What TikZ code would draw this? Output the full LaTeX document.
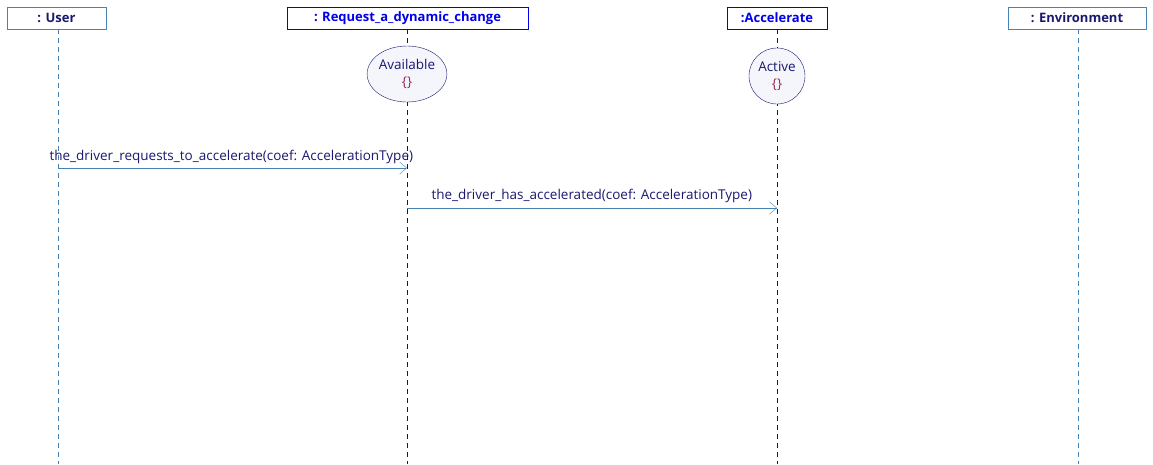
\documentclass[tikz,border=0pt]{standalone}
\usepackage{fontspec}
\setmainfont{Open Sans}
\usepackage{tikz}
\usetikzlibrary{shapes.geometric,arrows.meta}
\definecolor{steel}{RGB}{70,130,180}
\definecolor{navy}{RGB}{25,25,112}
\definecolor{partblue}{RGB}{0,0,235}
\definecolor{lav}{RGB}{245,245,252}
\definecolor{brace}{RGB}{150,40,90}
\begin{document}
\begin{tikzpicture}
            [x=1pt,y=-1pt,
            every node/.style={font=\fontsize{13.5}{17}\selectfont},
            actor/.style={draw=steel, rectangle, minimum height=22pt, text=navy, font=\fontsize{13}{15}\selectfont\bfseries},
            part/.style={draw=partblue, rectangle, minimum height=22pt, text=partblue, font=\fontsize{13}{15}\selectfont\bfseries},
            life/.style={dash pattern=on 5pt off 4pt},
            statebox/.style={ellipse, draw=navy, fill=lav, text=navy, align=center, inner sep=0pt},
            msg/.style={draw=steel, -{Straight Barb[length=7pt,width=12pt]}},
            msglabel/.style={text=navy, anchor=base west}]

            \useasboundingbox (0,0) rectangle (1153,464);

            % heads
            \node[actor, minimum width=99pt] (user) at (56.5,18) {: User};
            \node[part, minimum width=241pt] (req) at (407.5,18) {: Request\_a\_dynamic\_change};
            \node[part, minimum width=100pt] (acc) at (777,18) {:Accelerate};
            \node[actor, minimum width=138pt] (env) at (1077,18) {: Environment};

            % lifelines
            \coordinate (userend) at (58,464);
            \coordinate (reqend) at (407,464);
            \coordinate (accend) at (777,464);
            \coordinate (envend) at (1078,464);
            \draw[life, steel] (user.south -| 58,0) -- (userend);
            \draw[life, partblue] (req.south -| 407,0) -- (reqend);
            \draw[life, partblue] (acc.south) -- (accend);
            \draw[life, steel] (env.south -| 1078,0) -- (envend);

            % states
            \node[statebox, minimum width=76pt, minimum height=56pt] (avail) at (407,74) {Available\\{\color{brace}\{\}}};
            \node[statebox, minimum width=56pt, minimum height=56pt] (active) at (777,76) {Active\\{\color{brace}\{\}}};

            % messages
            \coordinate (m1a) at (58,168);
            \coordinate (m1b) at (407,168);
            \coordinate (m2a) at (407,208);
            \coordinate (m2b) at (777,208);
            \draw[msg] (m1a) -- (m1b);
            \draw[msg] (m2a) -- (m2b);
            \node[msglabel] (l1) at (46,160) {the\_driver\_requests\_to\_accelerate(coef: AccelerationType)};
            \node[msglabel] (l2) at (428,199) {the\_driver\_has\_accelerated(coef: AccelerationType)};
        \end{tikzpicture}
\end{document}
